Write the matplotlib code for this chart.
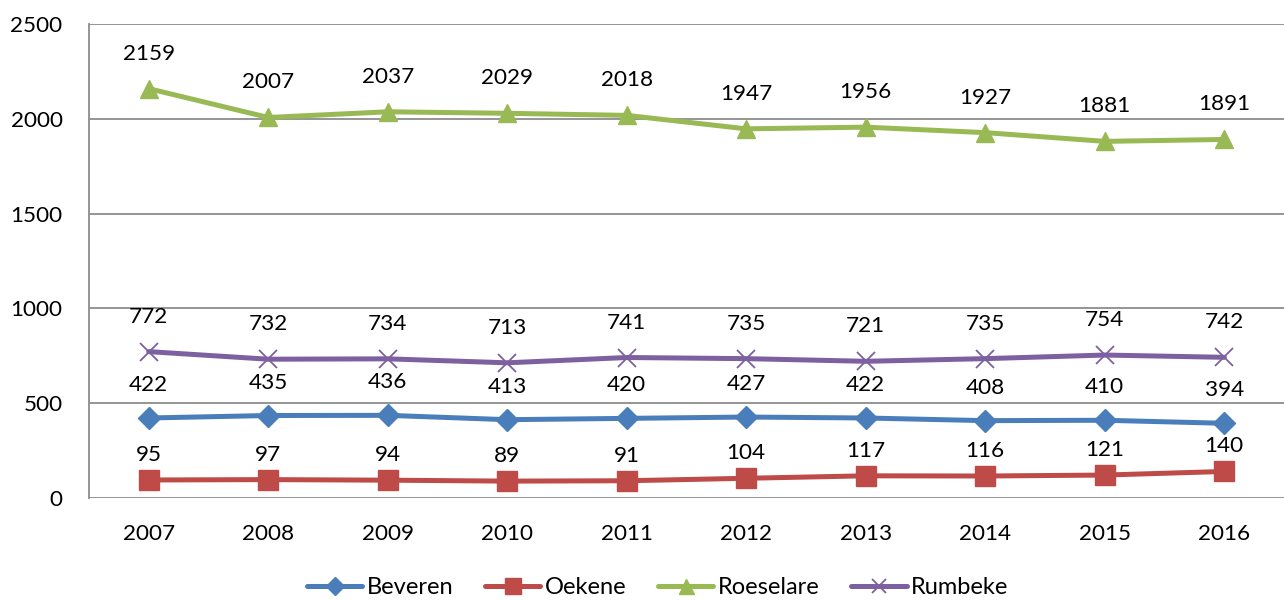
import matplotlib
matplotlib.use("Agg")
import matplotlib.pyplot as plt

years = ["2007", "2008", "2009", "2010", "2011", "2012", "2013", "2014", "2015", "2016"]
beveren = [422, 435, 436, 413, 420, 427, 422, 408, 410, 394]
oekene = [95, 97, 94, 89, 91, 104, 117, 116, 121, 140]
roeselare = [2159, 2007, 2037, 2029, 2018, 1947, 1956, 1927, 1881, 1891]
rumbeke = [772, 732, 734, 713, 741, 735, 721, 735, 754, 742]
series_names = ["Beveren", "Oekene", "Roeselare", "Rumbeke"]
yticks = [0, 500, 1000, 1500, 2000, 2500]

plt.rcParams['font.family'] = ['Lato', 'DejaVu Sans']
FS = 16.2
LFS = 17

fig = plt.figure(figsize=(12.84, 6.01), dpi=100)
ax = fig.add_axes([89/1284, 1-498/601, 1-89/1284, 474/601])

x = list(range(len(years)))
styles = [
    (beveren, "#4A7EBB", "D", 11, 33),
    (oekene, "#BE4B48", "s", 14.5, 25),
    (roeselare, "#98B954", "^", 13.5, 35),
    (rumbeke, "#7D60A0", "x", 12.5, 35),
]
for (vals, col, mk, ms, off), name in zip(styles, series_names):
    if mk == "x":
        ax.plot(x, vals, color=col, lw=3.6, marker=mk, ms=ms, mew=1.3,
                mec=col, label=name, solid_capstyle="round", zorder=3)
    else:
        ax.plot(x, vals, color=col, lw=3.6, marker=mk, ms=ms, mec=col,
                mfc=col, label=name, solid_capstyle="round", zorder=3)
    for xi, v in zip(x, vals):
        ax.annotate(str(v), (xi, v), xytext=(0, off*0.72), textcoords="offset points",
                    ha="center", va="center", fontsize=FS, color="black", zorder=4)

ax.set_xlim(-0.5, len(years)-0.5)
ax.set_ylim(0, 2500)
ax.set_yticks(yticks)
ax.set_yticklabels([str(t) for t in yticks], fontsize=FS)
ax.set_xticks(x)
ax.set_xticklabels(years, fontsize=FS)
ax.tick_params(axis="both", length=0)
ax.tick_params(axis="x", pad=19)
ax.tick_params(axis="y", pad=19)
for yv in yticks:
    ax.axhline(yv, color="#8C8C8C", lw=1.3, zorder=1)
for s in ["top", "right", "bottom"]:
    ax.spines[s].set_visible(False)
ax.spines["left"].set_color("#8C8C8C")
ax.spines["left"].set_linewidth(1.3)

leg = fig.legend(loc="center", bbox_to_anchor=(0.512, 1-588/601), ncol=4, frameon=False,
                 fontsize=LFS, handlelength=2.35, columnspacing=1.35, handletextpad=0.17,
                 markerscale=0.8)

fig.savefig("out.png", dpi=100)
